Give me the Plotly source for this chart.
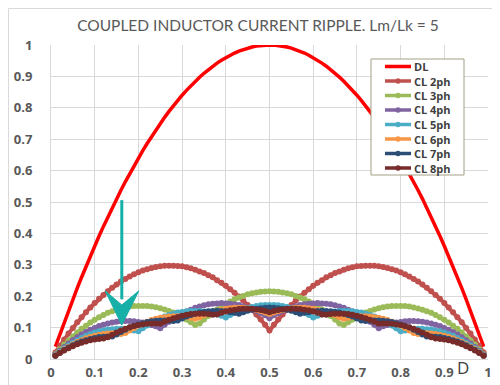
import plotly.graph_objects as go

D = [0.01,0.02,0.03,0.04,0.05,0.06,0.07,0.08,0.09,0.10,
     0.11,0.12,0.13,0.14,0.15,0.16,0.17,0.18,0.19,0.20,
     0.21,0.22,0.23,0.24,0.25,0.26,0.27,0.28,0.29,0.30,
     0.31,0.32,0.33,0.34,0.35,0.36,0.37,0.38,0.39,0.40,
     0.41,0.42,0.43,0.44,0.45,0.46,0.47,0.48,0.49,0.50,
     0.51,0.52,0.53,0.54,0.55,0.56,0.57,0.58,0.59,0.60,
     0.61,0.62,0.63,0.64,0.65,0.66,0.67,0.68,0.69,0.70,
     0.71,0.72,0.73,0.74,0.75,0.76,0.77,0.78,0.79,0.80,
     0.81,0.82,0.83,0.84,0.85,0.86,0.87,0.88,0.89,0.90,
     0.91,0.92,0.93,0.94,0.95,0.96,0.97,0.98,0.99]

DL = [0.0396,0.0784,0.1164,0.1536,0.19,0.2256,0.2604,0.2944,0.3276,0.36,
      0.3916,0.4224,0.4524,0.4816,0.51,0.5376,0.5644,0.5904,0.6156,0.64,
      0.6636,0.6864,0.7084,0.7296,0.75,0.7696,0.7884,0.8064,0.8236,0.84,
      0.8556,0.8704,0.8844,0.8976,0.91,0.9216,0.9324,0.9424,0.9516,0.96,
      0.9676,0.9744,0.9804,0.9856,0.99,0.9936,0.9964,0.9984,0.9996,1.0,
      0.9996,0.9984,0.9964,0.9936,0.99,0.9856,0.9804,0.9744,0.9676,0.96,
      0.9516,0.9424,0.9324,0.9216,0.91,0.8976,0.8844,0.8704,0.8556,0.84,
      0.8236,0.8064,0.7884,0.7696,0.75,0.7296,0.7084,0.6864,0.6636,0.64,
      0.6156,0.5904,0.5644,0.5376,0.51,0.4816,0.4524,0.4224,0.3916,0.36,
      0.3276,0.2944,0.2604,0.2256,0.19,0.1536,0.1164,0.0784,0.0396]

CL2 = [0.021,0.042,0.062,0.081,0.099,0.117,0.133,0.149,0.164,0.178,
       0.192,0.204,0.216,0.227,0.237,0.247,0.255,0.263,0.270,0.276,
       0.282,0.286,0.290,0.293,0.295,0.297,0.297,0.297,0.296,0.295,
       0.292,0.289,0.284,0.279,0.274,0.267,0.260,0.251,0.243,0.233,
       0.222,0.211,0.199,0.186,0.172,0.157,0.142,0.126,0.109,0.091,
       0.109,0.126,0.142,0.157,0.172,0.186,0.199,0.211,0.222,
       0.233,0.243,0.251,0.260,0.267,0.274,0.279,0.284,0.289,0.292,
       0.295,0.296,0.297,0.297,0.297,0.295,0.293,0.290,0.286,0.282,
       0.276,0.270,0.263,0.255,0.247,0.237,0.227,0.216,0.204,0.192,
       0.178,0.164,0.149,0.133,0.117,0.099,0.081,0.062,0.042,0.021]

CL3 = [0.016,0.031,0.046,0.059,0.072,0.084,0.096,0.106,0.116,0.125,
       0.133,0.140,0.147,0.152,0.157,0.161,0.164,0.167,0.169,0.169,
       0.169,0.169,0.167,0.165,0.162,0.158,0.153,0.148,0.141,0.134,
       0.126,0.117,0.108,0.113,0.126,0.137,0.148,0.158,0.167,0.176,
       0.183,0.190,0.196,0.201,0.206,0.209,0.212,0.214,0.215,0.216,
       0.215,0.214,0.212,0.209,0.206,0.201,0.196,0.190,0.183,
       0.176,0.167,0.158,0.148,0.137,0.126,0.113,0.108,0.117,0.126,
       0.134,0.141,0.148,0.153,0.158,0.162,0.165,0.167,0.169,0.169,
       0.169,0.169,0.167,0.164,0.161,0.157,0.152,0.147,0.140,0.133,
       0.125,0.116,0.106,0.096,0.084,0.072,0.059,0.046,0.031,0.016]

CL4 = [0.014,0.026,0.038,0.049,0.060,0.069,0.078,0.086,0.093,0.099,
       0.105,0.109,0.113,0.116,0.119,0.120,0.121,0.121,0.120,0.118,
       0.116,0.112,0.108,0.104,0.098,0.109,0.119,0.128,0.137,0.144,
       0.151,0.157,0.163,0.167,0.171,0.174,0.176,0.177,0.178,0.177,
       0.176,0.174,0.172,0.168,0.164,0.159,0.153,0.146,0.139,0.130,
       0.139,0.146,0.153,0.159,0.164,0.168,0.172,0.174,0.176,
       0.177,0.178,0.177,0.176,0.174,0.171,0.167,0.163,0.157,0.151,
       0.144,0.137,0.128,0.119,0.109,0.098,0.104,0.108,0.112,0.116,
       0.118,0.120,0.121,0.121,0.120,0.119,0.116,0.113,0.109,0.105,
       0.099,0.093,0.086,0.078,0.069,0.060,0.049,0.038,0.026,0.014]

CL5 = [0.012,0.023,0.034,0.043,0.052,0.060,0.067,0.074,0.079,0.084,
       0.088,0.091,0.094,0.095,0.096,0.096,0.095,0.094,0.091,0.088,
       0.098,0.107,0.115,0.123,0.129,0.135,0.140,0.144,0.148,0.150,
       0.152,0.153,0.153,0.153,0.151,0.149,0.146,0.142,0.138,0.132,
       0.140,0.147,0.153,0.158,0.162,0.166,0.169,0.171,0.172,0.172,
       0.172,0.171,0.169,0.166,0.162,0.158,0.153,0.147,0.140,
       0.132,0.138,0.142,0.146,0.149,0.151,0.153,0.153,0.153,0.152,
       0.150,0.148,0.144,0.140,0.135,0.129,0.123,0.115,0.107,0.098,
       0.088,0.091,0.094,0.095,0.096,0.096,0.095,0.094,0.091,0.088,
       0.084,0.079,0.074,0.067,0.060,0.052,0.043,0.034,0.023,0.012]

CL6 = [0.011,0.021,0.031,0.039,0.047,0.054,0.060,0.066,0.070,0.074,
       0.077,0.080,0.081,0.082,0.081,0.080,0.083,0.091,0.099,0.107,
       0.113,0.119,0.124,0.128,0.131,0.133,0.135,0.136,0.136,0.135,
       0.134,0.131,0.128,0.132,0.139,0.144,0.150,0.154,0.157,0.160,
       0.162,0.163,0.163,0.163,0.161,0.159,0.156,0.153,0.148,0.143,
       0.148,0.153,0.156,0.159,0.161,0.163,0.163,0.163,0.162,
       0.160,0.157,0.154,0.150,0.144,0.139,0.132,0.128,0.131,0.134,
       0.135,0.136,0.136,0.135,0.133,0.131,0.128,0.124,0.119,0.113,
       0.107,0.099,0.091,0.083,0.080,0.081,0.082,0.081,0.080,0.077,
       0.074,0.070,0.066,0.060,0.054,0.047,0.039,0.031,0.021,0.011]

CL7 = [0.010,0.020,0.029,0.037,0.044,0.050,0.056,0.060,0.064,0.067,
       0.070,0.071,0.072,0.072,0.078,0.086,0.093,0.100,0.106,0.110,
       0.114,0.118,0.120,0.122,0.123,0.123,0.122,0.121,0.123,0.129,
       0.135,0.140,0.144,0.148,0.150,0.152,0.153,0.154,0.153,0.152,
       0.149,0.147,0.144,0.149,0.154,0.157,0.160,0.162,0.163,0.164,
       0.163,0.162,0.160,0.157,0.154,0.149,0.144,0.147,0.149,
       0.152,0.153,0.154,0.153,0.152,0.150,0.148,0.144,0.140,0.135,
       0.129,0.123,0.121,0.122,0.123,0.123,0.122,0.120,0.118,0.114,
       0.110,0.106,0.100,0.093,0.086,0.078,0.072,0.072,0.071,0.070,
       0.067,0.064,0.060,0.056,0.050,0.044,0.037,0.029,0.020,0.010]

CL8 = [0.010,0.019,0.027,0.034,0.041,0.047,0.052,0.056,0.060,0.062,
       0.064,0.065,0.069,0.077,0.084,0.091,0.096,0.101,0.105,0.108,
       0.110,0.112,0.113,0.113,0.112,0.119,0.125,0.130,0.134,0.138,
       0.141,0.143,0.144,0.144,0.144,0.143,0.141,0.142,0.147,0.151,
       0.155,0.157,0.159,0.160,0.160,0.160,0.158,0.156,0.153,0.149,
       0.153,0.156,0.158,0.160,0.160,0.160,0.159,0.157,0.155,
       0.151,0.147,0.142,0.141,0.143,0.144,0.144,0.144,0.143,0.141,
       0.138,0.134,0.130,0.125,0.119,0.112,0.113,0.113,0.112,0.110,
       0.108,0.105,0.101,0.096,0.091,0.084,0.077,0.069,0.065,0.064,
       0.062,0.060,0.056,0.052,0.047,0.041,0.034,0.027,0.019,0.010]

series_names = ["CL 2ph", "CL 3ph", "CL 4ph", "CL 5ph", "CL 6ph", "CL 7ph", "CL 8ph"]
series_values = [CL2, CL3, CL4, CL5, CL6, CL7, CL8]
series_colors = ["#C0504D", "#9BBB59", "#8064A2", "#4BACC6", "#F79646", "#2C4D75", "#772C2A"]

x_ticks = [0, 0.1, 0.2, 0.3, 0.4, 0.5, 0.6, 0.7, 0.8, 0.9, 1]
x_tick_text = ["0", "0.1", "0.2", "0.3", "0.4", "0.5", "0.6", "0.7", "0.8", "0.9", "1"]
y_ticks = [0, 0.1, 0.2, 0.3, 0.4, 0.5, 0.6, 0.7, 0.8, 0.9, 1]
y_tick_text = ["0", "0.1", "0.2", "0.3", "0.4", "0.5", "0.6", "0.7", "0.8", "0.9", "1"]

W, H = 500, 385
ml, mr, mt, mb = 43, 20, 37, 34
pw, ph = W - ml - mr, H - mt - mb

fig = go.Figure()
fig.add_trace(go.Scatter(x=D, y=DL, name="DL", mode="lines", showlegend=False,
                         line=dict(color="#FF0000", width=3.5)))
for name, vals, col in zip(series_names, series_values, series_colors):
    fig.add_trace(go.Scatter(x=D, y=vals, name=name, mode="lines+markers", showlegend=False,
                             line=dict(color=col, width=4),
                             marker=dict(color=col, size=6, symbol="circle")))

teal = "#17B0A8"
# arrow annotation
fig.add_shape(type="line", xref="x", yref="y", x0=0.162, y0=0.506, x1=0.162, y1=0.19,
              line=dict(color=teal, width=3))
fig.add_shape(type="path", xref="x", yref="y",
              path="M 0.124 0.217 L 0.162 0.108 L 0.201 0.217 L 0.162 0.172 Z",
              fillcolor=teal, line=dict(color=teal, width=1))

# outer chart border
fig.add_shape(type="rect", xref="paper", yref="paper",
              x0=(-ml + 0.5) / pw, x1=1 + (mr - 0.5) / pw,
              y0=(-mb + 1.5) / ph, y1=1 + (mt - 0.5) / ph,
              line=dict(color="#D9D9D9", width=1), fillcolor="rgba(0,0,0,0)", layer="below")

def px_x(p):
    return (p - ml) / pw

def px_y(p):
    return (H - mb - p) / ph

# compact legend drawn like the reference
leg_left, leg_right, leg_top, leg_bot = 363, 456, 51, 167
fig.add_shape(type="rect", xref="paper", yref="paper",
              x0=px_x(leg_left), x1=px_x(leg_right), y0=px_y(leg_bot), y1=px_y(leg_top),
              fillcolor="white", line=dict(color="#A49E86", width=1))
leg_names = ["DL"] + series_names
leg_colors = ["#FF0000"] + series_colors
for i, (nm, col) in enumerate(zip(leg_names, leg_colors)):
    yc = 58.5 + i * 14.5
    fig.add_shape(type="line", xref="paper", yref="paper",
                  x0=px_x(377), x1=px_x(403), y0=px_y(yc), y1=px_y(yc),
                  line=dict(color=col, width=3.5))
    if i > 0:
        fig.add_shape(type="circle", xref="paper", yref="paper",
                      x0=px_x(387.5), x1=px_x(392.5), y0=px_y(yc + 2.5), y1=px_y(yc - 2.5),
                      fillcolor=col, line=dict(color=col, width=0.5))
    fig.add_annotation(text=nm, xref="paper", yref="paper", x=px_x(405), y=px_y(yc),
                       xanchor="left", yanchor="middle", showarrow=False,
                       borderpad=0,
                       font=dict(family="Open Sans", size=11, color="#404040", weight="bold"))

fig.add_annotation(text="D", xref="paper", yref="paper", x=px_x(455), y=px_y(359),
                   xanchor="center", yanchor="middle", showarrow=False,
                   font=dict(family="Open Sans", size=17, color="#404040"))

tickfont = dict(family="Open Sans", size=13, color="#595959", weight="bold")
fig.update_layout(
    width=W, height=H,
    margin=dict(l=ml, r=mr, t=mt, b=mb, autoexpand=False),
    paper_bgcolor="white", plot_bgcolor="white",
    title=dict(text="COUPLED INDUCTOR CURRENT RIPPLE. Lm/Lk = 5",
               x=250 / W, xanchor="center", y=1 - 18 / H, yanchor="middle",
               font=dict(family="Lato", size=15.5, color="#595959")),
    showlegend=False,
    xaxis=dict(range=[0, 1], tickvals=x_ticks, ticktext=x_tick_text, showgrid=True,
               gridcolor="#D9D9D9", gridwidth=1, zeroline=False, showline=True,
               linecolor="#D9D9D9", tickfont=tickfont, ticks="", ticklabelstandoff=1,
               automargin=False),
    yaxis=dict(range=[0, 1], tickvals=y_ticks, ticktext=y_tick_text, showgrid=True,
               gridcolor="#D9D9D9", gridwidth=1, zeroline=False, showline=True,
               linecolor="#D9D9D9", tickfont=tickfont, ticks="", ticklabelstandoff=15,
               automargin=False),
)

fig.write_html("out.html")
